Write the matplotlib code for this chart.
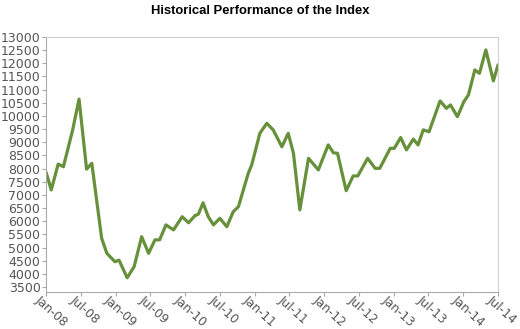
import matplotlib
matplotlib.use("Agg")
import matplotlib.pyplot as plt
import matplotlib.transforms as mtransforms

# months since Jan-08 and index level
months = [0, 0.9, 2.1, 3.0, 4.6, 5.7, 7.0, 7.9, 9.6, 10.5, 11.9, 12.6, 14.0,
          15.2, 16.5, 17.7, 18.8, 19.6, 20.7, 22.0, 23.5, 24.6, 25.7, 26.3,
          27.1, 28.0, 28.9, 30.0, 31.2, 32.3, 33.2, 34.9, 35.5, 36.9, 38.1,
          39.2, 40.7, 41.8, 42.7, 43.8, 45.3, 47.0, 48.7, 49.6, 50.3, 51.8,
          53.0, 53.8, 55.5, 56.8, 57.6, 59.4, 60.1, 61.2, 62.2, 63.4, 64.2,
          65.1, 66.1, 68.0, 69.1, 69.8, 71.0, 72.1, 72.9, 74.0, 74.8, 75.9,
          77.2, 78.0]
values = [7870, 7190, 8170, 8070, 9470, 10640, 7980, 8200, 5350, 4780, 4460,
          4520, 3850, 4270, 5410, 4780, 5290, 5290, 5860, 5670, 6170, 5940,
          6210, 6270, 6700, 6170, 5860, 6110, 5790, 6360, 6550, 7820, 8140,
          9340, 9720, 9470, 8830, 9340, 8580, 6430, 8390, 7950, 8900, 8600,
          8580, 7160, 7720, 7720, 8390, 8010, 8010, 8770, 8770, 9180, 8710,
          9120, 8900, 9470, 9400, 10570, 10290, 10420, 9970, 10540, 10800,
          11750, 11620, 12510, 11330, 11940]

tick_months = list(range(0, 79, 6))
tick_labels = ["Jan-08", "Jul-08", "Jan-09", "Jul-09", "Jan-10", "Jul-10",
               "Jan-11", "Jul-11", "Jan-12", "Jul-12", "Jan-13", "Jul-13",
               "Jan-14", "Jul-14"]
y_ticks = list(range(3500, 13001, 500))

fig = plt.figure(figsize=(5.2, 3.29), dpi=100)
ax = fig.add_axes([0.0885, 0.1125, 0.8692, 0.775])

ax.plot(months, values, color="#66903a", lw=2.3, solid_joinstyle="round",
        solid_capstyle="round")

ax.set_xlim(0, 78)
ax.set_ylim(3310, 13000)
ax.set_yticks(y_ticks)
ax.set_yticklabels([str(v) for v in y_ticks])
ax.set_xticks(tick_months)
ax.set_xticklabels([])

# slanted month labels, hung just under the axis a bit left of each tick
shift = mtransforms.ScaledTranslation(-5 / 100, -1 / 100, fig.dpi_scale_trans)
trans = ax.get_xaxis_transform() + shift
for m, lab in zip(tick_months, tick_labels):
    ax.text(m, 0, lab, transform=trans, rotation=-42, ha="left", va="top",
            rotation_mode="anchor", fontsize=8.7, color="#555555",
            clip_on=False)

for side in ["left", "bottom"]:
    ax.spines[side].set_color("#aaaaaa")
for side in ["top", "right"]:
    ax.spines[side].set_color("#d0d0d0")
ax.tick_params(colors="#aaaaaa", labelcolor="#555555", labelsize=9,
               length=3, width=0.8, pad=1)

fig.suptitle("Historical Performance of the Index", x=0.5, y=0.985,
             fontsize=9.4, fontweight="bold", family="Liberation Sans")

fig.savefig("out.png", dpi=100)
